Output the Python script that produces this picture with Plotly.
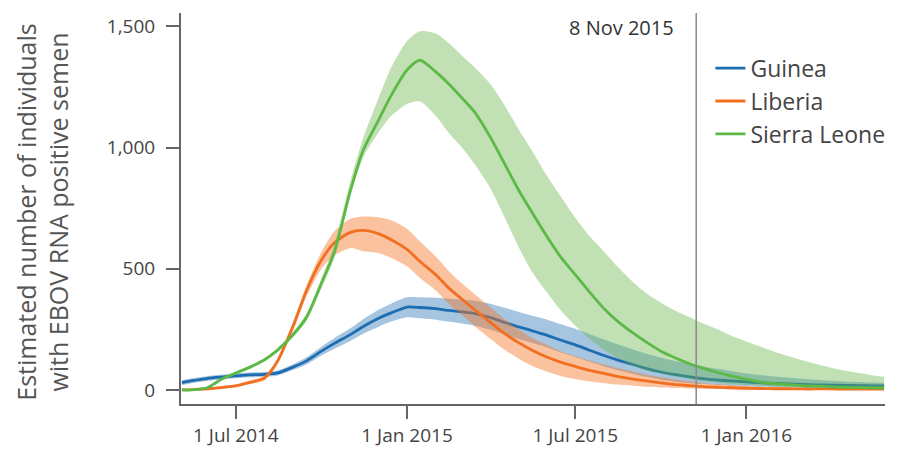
import plotly.graph_objects as go

dates = [
    "2014-05-04", "2014-05-15", "2014-06-01", "2014-06-15", "2014-07-01", "2014-07-15",
    "2014-08-01", "2014-08-15", "2014-09-01", "2014-09-15", "2014-10-01", "2014-10-15",
    "2014-11-01", "2014-11-15", "2014-12-01", "2014-12-15", "2015-01-01", "2015-01-15",
    "2015-02-01", "2015-02-15", "2015-03-01", "2015-03-15", "2015-04-01", "2015-04-15",
    "2015-05-01", "2015-05-15", "2015-06-01", "2015-06-15", "2015-07-01", "2015-07-15",
    "2015-08-01", "2015-08-15", "2015-09-01", "2015-09-15", "2015-10-01", "2015-10-15",
    "2015-11-01", "2015-11-15", "2015-12-01", "2015-12-15", "2016-01-01", "2016-01-15",
    "2016-02-01", "2016-02-15", "2016-03-01", "2016-03-15", "2016-04-01", "2016-04-15",
    "2016-05-01", "2016-05-15", "2016-05-28",
]

guinea = [30, 38, 48, 53, 58, 62, 64, 70, 95, 120, 160, 192, 228, 262, 295, 318, 342, 340,
          335, 328, 322, 315, 298, 280, 260, 245, 225, 206, 186, 166, 142, 124, 105, 89, 74, 64,
          54, 47, 41, 37, 33, 30, 27, 25, 23, 21, 20, 19, 18, 17, 17]
guinea_hi = [40, 48, 58, 63, 68, 72, 74, 80, 107, 135, 178, 214, 254, 292, 330, 356, 382, 382,
             380, 376, 372, 368, 355, 340, 322, 307, 290, 272, 252, 232, 208, 188, 167, 150, 133, 120,
             108, 97, 87, 78, 68, 62, 55, 50, 46, 42, 38, 35, 33, 31, 30]
guinea_lo = [20, 28, 38, 43, 48, 52, 54, 60, 83, 105, 142, 170, 202, 232, 260, 282, 300, 296,
             290, 282, 274, 265, 248, 230, 210, 195, 175, 155, 136, 118, 97, 82, 66, 54, 42, 35,
             28, 24, 20, 17, 15, 13, 12, 11, 10, 9, 9, 8, 8, 7, 7]

liberia = [0, 1, 5, 10, 17, 30, 50, 120, 268, 410, 536, 607, 650, 658, 645, 620, 580, 530,
           475, 420, 375, 330, 278, 235, 195, 165, 135, 115, 97, 82, 68, 56, 45, 37, 29, 23,
           18, 14, 11, 9, 7, 6, 5, 5, 4, 4, 4, 3, 3, 3, 3]
liberia_hi = [3, 4, 9, 15, 23, 37, 60, 132, 285, 432, 570, 655, 705, 715, 712, 700, 665, 612,
              550, 490, 440, 395, 340, 295, 250, 215, 185, 160, 140, 122, 105, 90, 76, 64, 53, 44,
              36, 29, 24, 20, 16, 13, 11, 10, 9, 8, 7, 7, 6, 6, 6]
liberia_lo = [0, 0, 2, 6, 12, 23, 40, 108, 250, 385, 500, 555, 585, 572, 565, 545, 510, 462,
              410, 355, 310, 262, 210, 168, 130, 100, 75, 58, 45, 36, 28, 22, 17, 13, 10, 8,
              6, 5, 4, 3, 2, 2, 1, 1, 1, 1, 1, 1, 1, 1, 1]

sierra = [0, 0, 10, 43, 70, 92, 125, 165, 230, 300, 440, 570, 820, 990, 1110, 1215, 1320, 1360,
          1312, 1262, 1205, 1145, 1040, 940, 825, 735, 630, 550, 475, 410, 335, 285, 235, 198, 160, 135,
          108, 90, 72, 58, 44, 33, 26, 22, 18, 16, 13, 11, 10, 9, 8]
sierra_hi = [2, 3, 14, 48, 76, 99, 133, 174, 242, 315, 460, 600, 860, 1040, 1200, 1330, 1440, 1480,
             1470, 1430, 1380, 1330, 1260, 1180, 1075, 990, 880, 800, 710, 640, 570, 510, 445, 400, 360, 330,
             300, 275, 250, 225, 200, 180, 157, 140, 122, 108, 92, 80, 70, 61, 54]
sierra_lo = [0, 0, 6, 38, 64, 85, 117, 156, 218, 285, 420, 545, 800, 960, 1060, 1130, 1180, 1190,
             1130, 1060, 1000, 930, 830, 720, 590, 490, 400, 330, 265, 215, 165, 133, 100, 80, 68, 56,
             44, 36, 30, 25, 20, 16, 13, 11, 9, 8, 7, 6, 5, 5, 4]

series = [
    ("Guinea", guinea, guinea_lo, guinea_hi, "#1f6db1", "rgba(31,109,177,0.40)"),
    ("Liberia", liberia, liberia_lo, liberia_hi, "#f26f21", "rgba(245,120,40,0.45)"),
    ("Sierra Leone", sierra, sierra_lo, sierra_hi, "#5cb946", "rgba(100,180,70,0.40)"),
]

tick_dates = ["2014-07-01", "2015-01-01", "2015-07-01", "2016-01-01"]
tick_text = ["1 Jul 2014", "1 Jan 2015", "1 Jul 2015", "1 Jan 2016"]
y_ticks = [0, 500, 1000, 1500]
y_text = ["0", "500", "1,000", "1,500"]
marker_date = "2015-11-08"
marker_label = "8 Nov 2015"

FONT = "Open Sans"
fig = go.Figure()
for name, mid, lo, hi, col, band in series:
    fig.add_trace(go.Scatter(x=dates, y=lo, mode="lines", line=dict(width=0, shape="spline", smoothing=0.7),
                             showlegend=False, hoverinfo="skip"))
    fig.add_trace(go.Scatter(x=dates, y=hi, mode="lines", line=dict(width=0, shape="spline", smoothing=0.7),
                             fill="tonexty", fillcolor=band, showlegend=False, hoverinfo="skip"))
    fig.add_trace(go.Scatter(x=dates, y=mid, mode="lines", name=name,
                             line=dict(color=col, width=2.8, shape="spline", smoothing=0.7)))

fig.add_shape(type="line", xref="x", yref="paper", x0=marker_date, x1=marker_date, y0=0, y1=1,
              line=dict(color="#8a8a8a", width=1.5))
fig.add_annotation(x=marker_date, xref="x", y=0.964, yref="paper", text=marker_label, showarrow=False,
                   xanchor="right", yanchor="middle", xshift=-20, font=dict(family=FONT, size=20, color="#333"))
fig.add_annotation(x=-0.197, xref="paper", y=0.49, yref="paper", textangle=-90, showarrow=False,
                   text="Estimated number of individuals<br>with EBOV RNA positive semen",
                   xanchor="center", yanchor="middle", font=dict(family=FONT, size=25, color="#555"))

# The page body has an 8px margin, so the figure is sized/offset to land on the reference pixels.
fig.update_layout(
    width=906, height=443, margin=dict(l=173, r=29, t=5, b=47, autoexpand=False),
    plot_bgcolor="white", paper_bgcolor="white",
    font=dict(family=FONT, size=19, color="#444"),
    legend=dict(x=0.752, y=0.914, xanchor="left", yanchor="top", font=dict(size=23, color="#444"),
                bgcolor="rgba(0,0,0,0)", itemwidth=30, tracegroupgap=0, traceorder="normal"),
    xaxis=dict(range=["2014-05-03", "2016-05-29"], tickvals=tick_dates, ticktext=tick_text,
               showgrid=False, zeroline=False, showline=True, linecolor="#666", linewidth=2,
               ticks="outside", ticklen=13, tickwidth=1.5, tickcolor="#666", tickfont=dict(size=19)),
    yaxis=dict(range=[-58, 1555], tickvals=y_ticks, ticktext=y_text, showgrid=False, zeroline=False,
               showline=True, linecolor="#666", linewidth=2, ticks="outside", ticklen=13, tickwidth=1.5,
               tickcolor="#666", tickfont=dict(size=19), ticklabelstandoff=7),
)
fig.write_html("out.html")
